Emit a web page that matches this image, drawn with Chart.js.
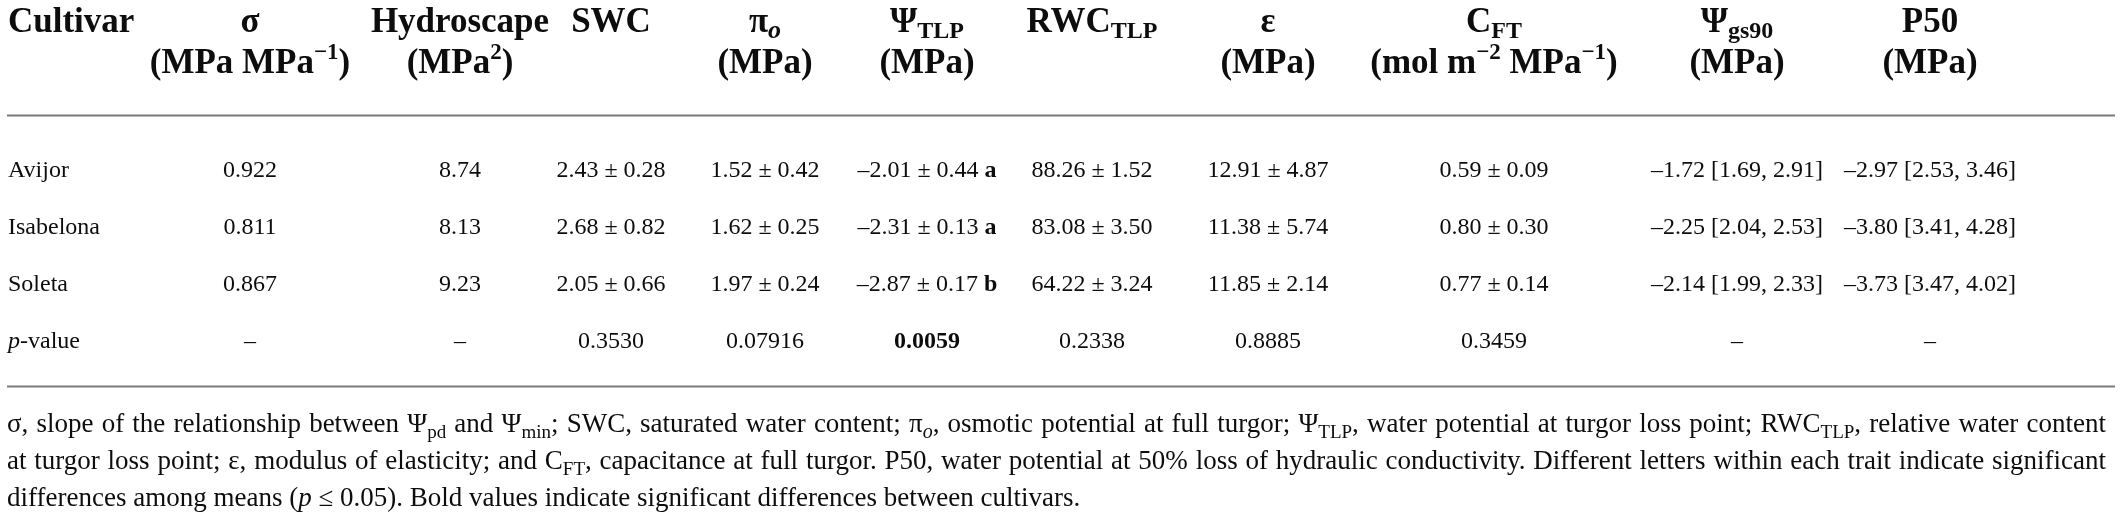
<!DOCTYPE html>
<html>
<head>
<meta charset="utf-8">
<script src="https://cdn.jsdelivr.net/npm/chart.js@4.4.1/dist/chart.umd.min.js"></script>
<style>
  html, body { margin: 0; padding: 0; background: #fff; }
  #wrap { position: relative; width: 2119px; height: 519px; }
</style>
</head>
<body>
<div id="wrap"><canvas id="traitTable"></canvas></div>
<script>
const cultivars = ["Avijor", "Isabelona", "Soleta"];
const sigma = [0.922, 0.811, 0.867];
const hydroscape = [8.74, 8.13, 9.23];
const swcMean = [2.43, 2.68, 2.05];
const swcSd = [0.28, 0.82, 0.66];
const piMean = [1.52, 1.62, 1.97];
const piSd = [0.42, 0.25, 0.24];
const tlpMean = [-2.01, -2.31, -2.87];
const tlpSd = [0.44, 0.13, 0.17];
const tlpLetters = ["a", "a", "b"];
const rwcMean = [88.26, 83.08, 64.22];
const rwcSd = [1.52, 3.50, 3.24];
const epsMean = [12.91, 11.38, 11.85];
const epsSd = [4.87, 5.74, 2.14];
const cftMean = [0.59, 0.80, 0.77];
const cftSd = [0.09, 0.30, 0.14];
const gs90 = [-1.72, -2.25, -2.14];
const gs90Lo = [1.69, 2.04, 1.99];
const gs90Hi = [2.91, 2.53, 2.33];
const p50 = [-2.97, -3.80, -3.73];
const p50Lo = [2.53, 3.41, 3.47];
const p50Hi = [3.46, 4.28, 4.02];
// one p-value per trait column ("–" = not tested)
const pValues = ["–", "–", "0.3530", "0.07916", "0.0059", "0.2338", "0.8885", "0.3459", "–", "–"];

// header lines: [text, style] runs
const headers = [
  { top: [["Cultivar", "h"]], bottom: [] },
  { top: [["σ", "h"]], bottom: [["(MPa MPa", "h"], ["−1", "hsup"], [")", "h"]] },
  { top: [["Hydroscape", "h"]], bottom: [["(MPa", "h"], ["2", "hsup"], [")", "h"]] },
  { top: [["SWC", "h"]], bottom: [] },
  { top: [["π", "h"], ["o", "hsubi"]], bottom: [["(MPa)", "h"]] },
  { top: [["Ψ", "h"], ["TLP", "hsub"]], bottom: [["(MPa)", "h"]] },
  { top: [["RWC", "h"], ["TLP", "hsub"]], bottom: [] },
  { top: [["ε", "h"]], bottom: [["(MPa)", "h"]] },
  { top: [["C", "h"], ["FT", "hsub"]], bottom: [["(mol m", "h"], ["−2", "hsup"], [" MPa", "h"], ["−1", "hsup"], [")", "h"]] },
  { top: [["Ψ", "h"], ["gs90", "hsub"]], bottom: [["(MPa)", "h"]] },
  { top: [["P50", "h"]], bottom: [["(MPa)", "h"]] },
];

const footnote = [
  [["σ, slope of the relationship between Ψ", "f"], ["pd", "fsub"], [" and Ψ", "f"], ["min", "fsub"],
   ["; SWC, saturated water content; π", "f"], ["o", "fsubi"], [", osmotic potential at full turgor; Ψ", "f"], ["TLP", "fsub"],
   [", water potential at turgor loss point; RWC", "f"], ["TLP", "fsub"], [", relative water content", "f"]],
  [["at turgor loss point; ε, modulus of elasticity; and C", "f"], ["FT", "fsub"],
   [", capacitance at full turgor. P50, water potential at 50% loss of hydraulic conductivity. Different letters within each trait indicate significant", "f"]],
  [["differences among means (", "f"], ["p", "fi"], [" ≤ 0.05). Bold values indicate significant differences between cultivars.", "f"]],
];

// layout (pixels in table space)
const COL_X = [8, 250, 460, 611, 765, 927, 1092, 1268, 1494, 1737, 1930];
const HEAD_Y = [32, 73];
const ROW_Y = [177, 234, 291, 348];
const RULE_Y = [115, 386];
const FOOT_Y = [432, 469, 506];
const SERIF = '"Liberation Serif", "DejaVu Serif", serif';

const fmt = (v, d = 2) => (v < 0 ? "–" : "") + Math.abs(v).toFixed(d);
const pm = (m, s) => `${fmt(m)} ± ${s.toFixed(2)}`;

// body cells: one dataset per column, each point carries its text
const columns = [
  cultivars.map((c) => [[c, "b"]]).concat([[["p", "bi"], ["-value", "b"]]]),
  sigma.map((v) => [[v.toFixed(3), "b"]]),
  hydroscape.map((v) => [[v.toFixed(2), "b"]]),
  swcMean.map((m, i) => [[pm(m, swcSd[i]), "b"]]),
  piMean.map((m, i) => [[pm(m, piSd[i]), "b"]]),
  tlpMean.map((m, i) => [[pm(m, tlpSd[i]) + " ", "b"], [tlpLetters[i], "bb"]]),
  rwcMean.map((m, i) => [[pm(m, rwcSd[i]), "b"]]),
  epsMean.map((m, i) => [[pm(m, epsSd[i]), "b"]]),
  cftMean.map((m, i) => [[pm(m, cftSd[i]), "b"]]),
  gs90.map((m, i) => [[`${fmt(m)} [${gs90Lo[i].toFixed(2)}, ${gs90Hi[i].toFixed(2)}]`, "b"]]),
  p50.map((m, i) => [[`${fmt(m)} [${p50Lo[i].toFixed(2)}, ${p50Hi[i].toFixed(2)}]`, "b"]]),
];
pValues.forEach((p, i) => {
  const sig = p !== "–" && Number(p) <= 0.05;
  columns[i + 1].push([[p, sig ? "bb" : "b"]]);
});

let footSize = 27;
function styles() {
  const fs = footSize;
  return {
    h: { font: `bold 35px ${SERIF}`, dy: 0 },
    hsub: { font: `bold 24px ${SERIF}`, dy: 6 },
    hsubi: { font: `bold italic 26px ${SERIF}`, dy: 6 },
    hsup: { font: `bold 23px ${SERIF}`, dy: -14 },
    b: { font: `24px ${SERIF}`, dy: 0 },
    bb: { font: `bold 24px ${SERIF}`, dy: 0 },
    bi: { font: `italic 24px ${SERIF}`, dy: 0 },
    f: { font: `${fs}px ${SERIF}`, dy: 0 },
    fi: { font: `italic ${fs}px ${SERIF}`, dy: 0 },
    fsub: { font: `${Math.round(fs * 0.72)}px ${SERIF}`, dy: Math.round(fs * 0.22) },
    fsubi: { font: `italic ${Math.round(fs * 0.75)}px ${SERIF}`, dy: Math.round(fs * 0.22) },
  };
}

function runsWidth(ctx, runs, st) {
  let w = 0;
  for (const [t, k] of runs) { ctx.font = st[k].font; w += ctx.measureText(t).width; }
  return w;
}
function countSpaces(runs) {
  return runs.reduce((n, [t]) => n + (t.match(/ /g) || []).length, 0);
}
function drawRuns(ctx, runs, x, y, align, st, extra = 0) {
  const w = runsWidth(ctx, runs, st) + extra * countSpaces(runs);
  let cx = align === "center" ? x - w / 2 : x;
  for (const [t, k] of runs) {
    ctx.font = st[k].font;
    const parts = t.split(" ");
    parts.forEach((p, i) => {
      if (p) { ctx.fillText(p, cx, y + st[k].dy); cx += ctx.measureText(p).width; }
      if (i < parts.length - 1) cx += ctx.measureText(" ").width + extra;
    });
  }
}

const tablePlugin = {
  id: "tableText",
  afterDatasetsDraw(chart) {
    const { ctx, scales: { x, y } } = chart;
    ctx.save();
    ctx.fillStyle = "#0d0d0d";
    ctx.textBaseline = "alphabetic";
    ctx.textAlign = "left";
    let st = styles();

    // header
    headers.forEach((h, c) => {
      const align = c === 0 ? "left" : "center";
      const px = x.getPixelForValue(COL_X[c]);
      drawRuns(ctx, h.top, px, y.getPixelForValue(HEAD_Y[0]), align, st);
      if (h.bottom.length) drawRuns(ctx, h.bottom, px, y.getPixelForValue(HEAD_Y[1]), align, st);
    });

    // cells, at the positions Chart.js gave each point
    chart.data.datasets.forEach((ds, c) => {
      const meta = chart.getDatasetMeta(c);
      meta.data.forEach((pt, r) => {
        drawRuns(ctx, ds.data[r].cell, pt.x, pt.y, c === 0 ? "left" : "center", st);
      });
    });

    // rules
    ctx.strokeStyle = "#7a7a7a";
    ctx.lineWidth = 2;
    RULE_Y.forEach((ry) => {
      const py = Math.round(y.getPixelForValue(ry)) + 0.5;
      ctx.beginPath();
      ctx.moveTo(x.getPixelForValue(7), py);
      ctx.lineTo(x.getPixelForValue(2115), py);
      ctx.stroke();
    });

    // footnote, justified except the last line
    const left = x.getPixelForValue(7), right = x.getPixelForValue(2106);
    const target = right - left;
    const widest = Math.max(runsWidth(ctx, footnote[0], st), runsWidth(ctx, footnote[1], st));
    if (widest > target) { footSize = footSize * target / widest; st = styles(); }
    footnote.forEach((line, i) => {
      let extra = 0;
      if (i < footnote.length - 1) extra = (target - runsWidth(ctx, line, st)) / countSpaces(line);
      drawRuns(ctx, line, left, y.getPixelForValue(FOOT_Y[i]), "left", st, extra);
    });
    ctx.restore();
  },
};

new Chart(document.getElementById("traitTable"), {
  type: "scatter",
  data: {
    datasets: columns.map((cells, c) => ({
      label: headers[c].top[0][0],
      data: cells.map((cell, r) => ({ x: COL_X[c], y: ROW_Y[r], cell })),
      pointRadius: 0,
      pointHoverRadius: 0,
    })),
  },
  options: {
    responsive: true,
    maintainAspectRatio: false,
    animation: false,
    layout: { padding: 0 },
    plugins: { legend: { display: false }, tooltip: { enabled: false } },
    scales: {
      x: { type: "linear", min: 0, max: 2119, display: false },
      y: { type: "linear", min: 0, max: 519, reverse: true, display: false },
    },
  },
  plugins: [tablePlugin],
});
</script>
</body>
</html>
